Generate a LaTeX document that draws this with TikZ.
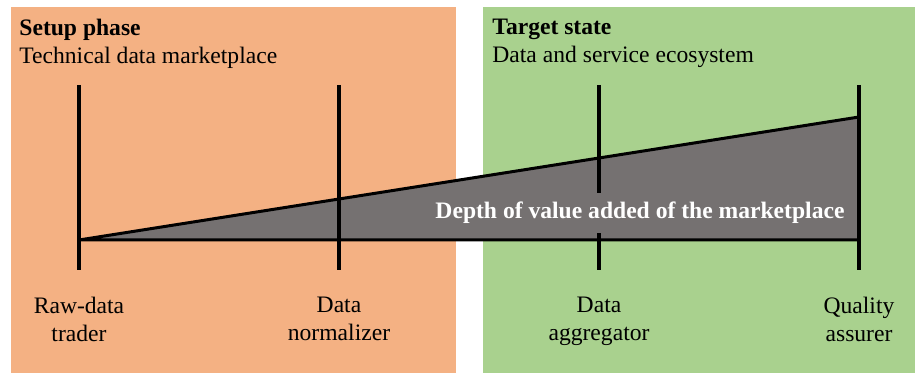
\documentclass[tikz,border=0pt]{standalone}
\usepackage{fontspec}
\setmainfont{LiberationSerif-Regular.ttf}[BoldFont=LiberationSerif-Bold.ttf]
\usetikzlibrary{positioning}
\definecolor{setuporange}{HTML}{F4B183}
\definecolor{targetgreen}{HTML}{A9D18E}
\definecolor{valuegray}{HTML}{757171}
\begin{document}
\begin{tikzpicture}[
			x=0.5pt, y=-0.5pt,
			font=\rmfamily\fontsize{11.8}{14}\selectfont,
			title/.style={
				font=\rmfamily\fontsize{11.8}{14}\selectfont\bfseries,
				inner sep=0pt,
				anchor=base west,
			},
			subtitle/.style={inner sep=0pt, anchor=base west},
			role/.style={align=center, inner sep=0pt, anchor=north},
			stake/.style={line width=1.8pt},
			wedge/.style={fill=valuegray, line width=1.5pt, line join=bevel},
			depth/.style={
				fill=valuegray,
				text=white,
				font=\rmfamily\fontsize{11.8}{14}\selectfont\bfseries,
				inner xsep=2pt,
				inner ysep=4.5pt,
			},
			]
			\useasboundingbox (0,0) rectangle (915,373);
			%% Phase areas
			\fill[setuporange] (11,7) rectangle (456,373);
			\fill[targetgreen] (483,7) rectangle (915,373);
			\node[title] (setup) at (19,36) {Setup phase};
			\node[subtitle] (setupsub) at ([yshift=-14pt]setup.base west) {Technical data marketplace};
			\node[title] (target) at (492,35) {Target state};
			\node[subtitle] (targetsub) at ([yshift=-14pt]target.base west) {Data and service ecosystem};
			%% Roles along the axis
			\foreach \px/\who/\role in {79/raw/{Raw-data\\trader},339/norm/{Data\\normalizer},599/aggr/{Data\\aggregator},859/qual/{Quality\\assurer}} {
				\coordinate (\who-top) at (\px,85);
				\coordinate (\who-bot) at (\px,270);
				\coordinate (\who-base) at (\px,240);
				\node[role] (\who) at (\px,297) {\role};
			}
			\coordinate (apex) at (859,117);
			\draw[wedge] (raw-base) -- (apex) -- (qual-base) -- cycle;
			\foreach \who in {raw,norm,aggr,qual}
				\draw[stake] (\who-top) -- (\who-bot);
			\node[depth] (valueadded) at (640,213) {Depth of value added of the marketplace};
		\end{tikzpicture}
\end{document}
